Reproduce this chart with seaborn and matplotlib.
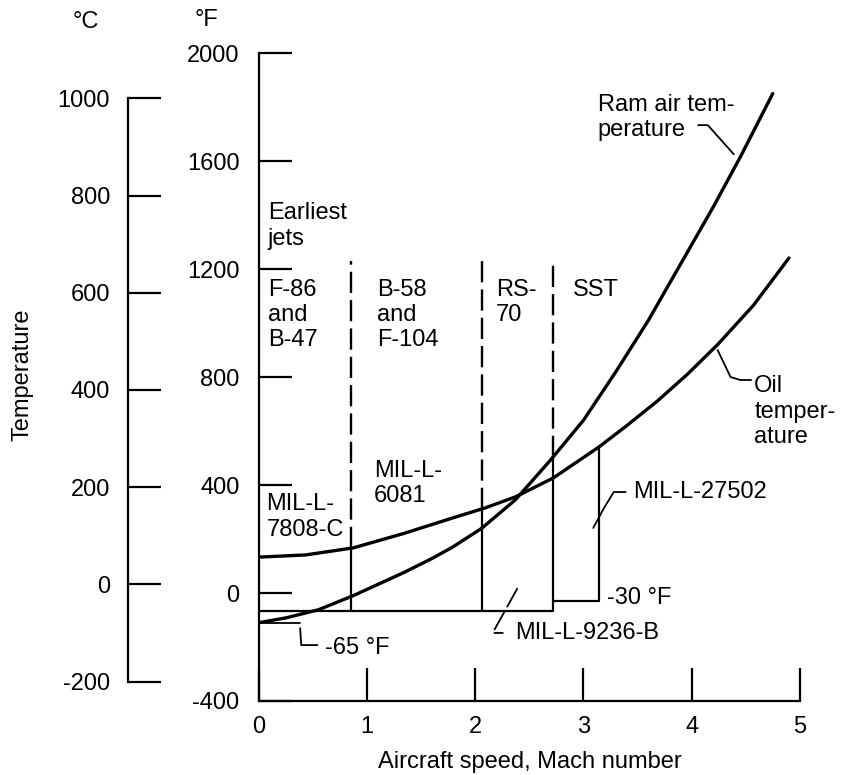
import numpy as np
import seaborn as sns
import matplotlib.pyplot as plt

# Ram air temperature (deg F) vs Mach number
mach_ram = [0.0, 0.25, 0.55, 0.87, 1.1, 1.35, 1.6, 1.79, 2.06, 2.37, 2.69, 3.0, 3.3, 3.6, 3.9, 4.2, 4.45, 4.75]
temp_ram = [-110, -92, -62, -10, 32, 78, 128, 170, 240, 345, 490, 640, 820, 1010, 1220, 1430, 1615, 1850]

# Oil temperature (deg F)
mach_oil = [0.0, 0.43, 0.87, 1.35, 1.79, 2.09, 2.37, 2.72, 3.14, 3.4, 3.68, 3.96, 4.24, 4.57, 4.9]
temp_oil = [133, 141, 167, 222, 278, 315, 356, 426, 540, 620, 710, 810, 920, 1065, 1241]

# aircraft era boundaries (Mach) with where the dashed part ends / solid part starts
era_mach = [0.85, 2.06, 2.72]
era_curve_temp = [165, 312, 505]
era_top = 1230
low_limit = -65       # MIL-L-7808-C / 6081 / 9236-B lower limit
sst_low_limit = -30   # MIL-L-27502 lower limit
sst_mach = 3.14
sst_top = 540

f_ticks = [-400, 0, 400, 800, 1200, 1600, 2000]
c_ticks = [-200, 0, 200, 400, 600, 800, 1000]
mach_ticks = [0, 1, 2, 3, 4, 5]

sns.set_style("ticks", {"axes.edgecolor": "black", "xtick.color": "black",
                        "ytick.color": "black", "text.color": "black",
                        "axes.labelcolor": "black"})
plt.rcParams['font.family'] = ['Liberation Sans', 'DejaVu Sans']
plt.rcParams['axes.unicode_minus'] = False

FS = 17
fig = plt.figure(figsize=(8.41, 7.75), dpi=100)
ax = fig.add_axes([0.308, 0.0955, 0.643, 0.836])

sns.lineplot(x=mach_ram, y=temp_ram, color='black', linewidth=2.4, estimator=None, sort=False, ax=ax)
sns.lineplot(x=mach_oil, y=temp_oil, color='black', linewidth=2.4, estimator=None, sort=False, ax=ax)

# era boundaries: dashed above the curves, solid below
dash = (0, (9, 3))
for m, ct in zip(era_mach, era_curve_temp):
    ax.plot([m, m], [ct, era_top], color='black', lw=1.7, linestyle=dash)
    ax.plot([m, m], [low_limit, ct], color='black', lw=1.6)
ax.plot([0, era_mach[-1]], [low_limit, low_limit], color='black', lw=1.6)
ax.plot([era_mach[-1], sst_mach, sst_mach], [sst_low_limit, sst_low_limit, sst_top], color='black', lw=1.6)

# leader lines
ax.plot([0.03, 0.38], [-111, -111], color='black', lw=1.3)
ax.plot([0.38, 0.39, 0.54], [-130, -193, -193], color='black', lw=1.3)
ax.plot([2.39, 2.16, 2.26], [18, -148, -148], color='black', lw=1.3, linestyle=(0, (12, 2.5)))
ax.plot([3.09, 3.19, 3.28, 3.39], [241, 315, 374, 374], color='black', lw=1.3)
ax.plot([4.06, 4.15, 4.39], [1733, 1733, 1625], color='black', lw=1.3)
ax.plot([4.24, 4.36, 4.45, 4.55], [900, 800, 789, 789], color='black', lw=1.3)

# labels inside the chart
ax.text(0.08, 1448, "Earliest\njets", fontsize=FS, va='top', ha='left')
ax.text(0.08, 1165, "F-86\nand\nB-47", fontsize=FS, va='top', ha='left')
ax.text(1.09, 1165, "B-58\nand\nF-104", fontsize=FS, va='top', ha='left')
ax.text(2.19, 1165, "RS-\n70", fontsize=FS, va='top', ha='left')
ax.text(2.90, 1165, "SST", fontsize=FS, va='top', ha='left')
ax.text(0.07, 370, "MIL-L-\n7808-C", fontsize=FS, va='top', ha='left')
ax.text(1.06, 493, "MIL-L-\n6081", fontsize=FS, va='top', ha='left')
ax.text(3.13, 1850, "Ram air tem-\nperature", fontsize=FS, va='top', ha='left')
ax.text(4.58, 807, "Oil\ntemper-\nature", fontsize=FS, va='top', ha='left')
ax.text(3.46, 374, "MIL-L-27502", fontsize=FS, va='center', ha='left')
ax.text(3.22, -18, "-30 °F", fontsize=FS, va='center', ha='left')
ax.text(0.61, -204, "-65 °F", fontsize=FS, va='center', ha='left')
ax.text(2.37, -148, "MIL-L-9236-B", fontsize=FS, va='center', ha='left')

ax.set_xlim(0, 5)
ax.set_ylim(-400, 2000)
ax.set_xticks(mach_ticks)
ax.set_yticks(f_ticks)
sns.despine(ax=ax)
for s in ['left', 'bottom']:
    ax.spines[s].set_linewidth(1.6)
ax.tick_params(axis='both', direction='in', length=24, width=1.6, labelsize=FS)
ax.tick_params(axis='y', pad=14)
ax.tick_params(axis='x', pad=11)
ax.set_xlabel("Aircraft speed, Mach number", fontsize=FS, labelpad=9)

# Celsius scale
sec = ax.secondary_yaxis((128 - 259) / 541, functions=(lambda f: (f - 32) / 1.8, lambda c: c * 1.8 + 32))
sec.set_yticks(c_ticks)
sec.tick_params(direction='in', length=24, width=1.6, labelsize=FS, pad=13)
sec.spines['left'].set_bounds(-200, 1000)
sec.spines['left'].set_linewidth(1.6)

fig.text(86 / 841, 1 - 22 / 775, "°C", fontsize=FS, ha='center', va='center')
fig.text(206 / 841, 1 - 20 / 775, "°F", fontsize=FS, ha='center', va='center')
fig.text(23 / 841, 1 - 375 / 775, "Temperature", fontsize=FS, rotation=90, ha='center', va='center')

fig.savefig("out.png", dpi=100)
